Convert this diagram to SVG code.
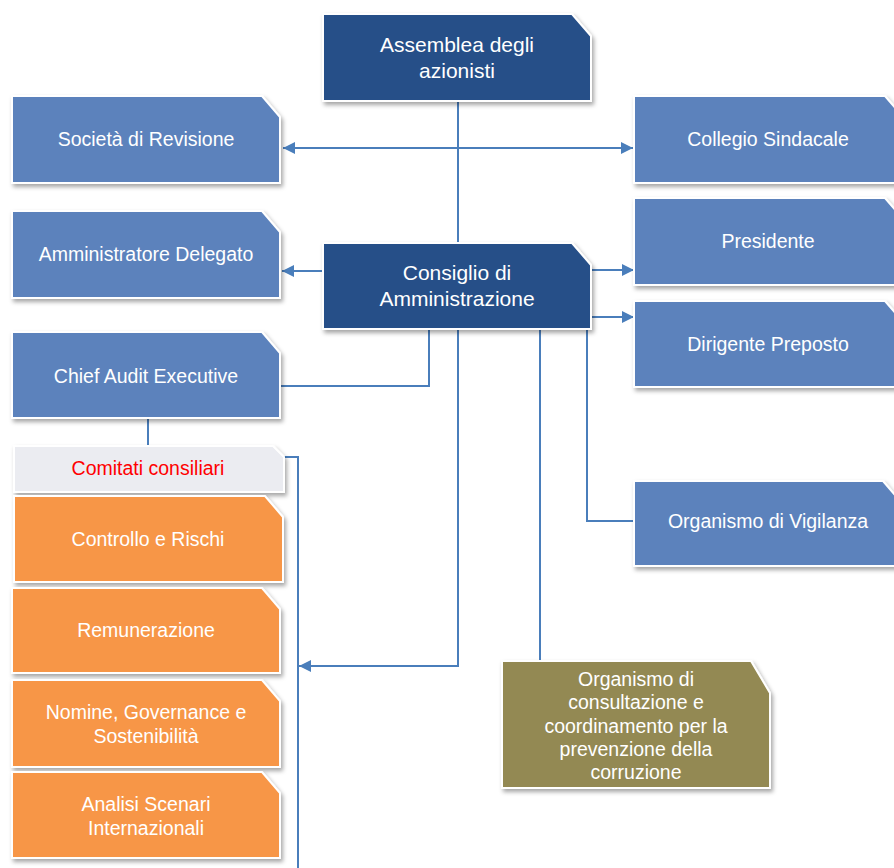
<svg xmlns="http://www.w3.org/2000/svg" width="894" height="868" viewBox="0 0 894 868">
<style>
  .box{stroke:#ffffff;stroke-width:2;filter:url(#sh)}
  .dark{fill:#264F88}
  .light{fill:#5B82BC}
  .orange{fill:#F79646}
  .olive{fill:#938953}
  .gray{fill:#EBECF1}
  text{font-family:"Liberation Sans",Arial,sans-serif;fill:#ffffff;text-anchor:middle;dominant-baseline:central}
  .t21{font-size:21px}
  .t19{font-size:19.5px}
  .red{fill:#FF0000}
  .conn{fill:none;stroke:#4A7EBB;stroke-width:2}
</style>
<defs>
  <filter id="sh" x="-10%" y="-10%" width="125%" height="130%">
    <feDropShadow dx="2" dy="3" stdDeviation="2" flood-color="#000" flood-opacity="0.35"/>
  </filter>
  <marker id="arr" markerUnits="userSpaceOnUse" markerWidth="12" markerHeight="12" viewBox="0 0 10 10" refX="10" refY="5" orient="auto-start-reverse">
    <path d="M0,0 L10,5 L0,10 z" fill="#4A7EBB"/>
  </marker>
</defs>
<rect width="894" height="868" fill="#ffffff"/>
<g id="connectors">
  <path class="conn" d="M458,101 V243"/>
  <path class="conn" d="M283,148 H633" marker-start="url(#arr)" marker-end="url(#arr)"/>
  <path class="conn" d="M323,271 H282" marker-end="url(#arr)"/>
  <path class="conn" d="M591,270 H634" marker-end="url(#arr)"/>
  <path class="conn" d="M591,317 H634" marker-end="url(#arr)"/>
  <path class="conn" d="M429,329 V386 H280"/>
  <path class="conn" d="M148,418 V446"/>
  <path class="conn" d="M458,329 V666 H299" marker-end="url(#arr)"/>
  <path class="conn" d="M284,457 H298 V868"/>
  <path class="conn" d="M540,329 V661"/>
  <path class="conn" d="M587,329 V521 H634"/>
</g>
<g id="assemblea">
  <path class="box dark" d="M323,14 H572 L591,36 V101 H323 Z"/>
  <text class="t21" x="457" y="44">Assemblea degli</text>
  <text class="t21" x="457" y="70">azionisti</text>
</g>
<g id="societa">
  <path class="box light" d="M12,96 H262 L280,117 V183 H12 Z"/>
  <text class="t19" x="146" y="139">Società di Revisione</text>
</g>
<g id="collegio">
  <path class="box light" d="M634,96 H885 L903,117 V183 H634 Z"/>
  <text class="t19" x="768" y="139">Collegio Sindacale</text>
</g>
<g id="amministratore">
  <path class="box light" d="M12,211 H262 L280,232 V298 H12 Z"/>
  <text class="t19" x="146" y="254">Amministratore Delegato</text>
</g>
<g id="presidente">
  <path class="box light" d="M634,198 H885 L903,219 V285 H634 Z"/>
  <text class="t19" x="768" y="241">Presidente</text>
</g>
<g id="consiglio">
  <path class="box dark" d="M323,243 H572 L591,265 V329 H323 Z"/>
  <text class="t21" x="457" y="272">Consiglio di</text>
  <text class="t21" x="457" y="298">Amministrazione</text>
</g>
<g id="dirigente">
  <path class="box light" d="M634,301 H885 L903,322 V387 H634 Z"/>
  <text class="t19" x="768" y="344">Dirigente Preposto</text>
</g>
<g id="chief">
  <path class="box light" d="M12,332 H262 L280,353 V418 H12 Z"/>
  <text class="t19" x="146" y="376">Chief Audit Executive</text>
</g>
<g id="comitati">
  <path class="box gray" d="M14,446 H273 L284,457 V492 H14 Z"/>
  <text class="t19 red" x="148" y="468">Comitati consiliari</text>
</g>
<g id="controllo">
  <path class="box orange" d="M14,496 H265 L283,517 V582 H14 Z"/>
  <text class="t19" x="148" y="539">Controllo e Rischi</text>
</g>
<g id="remunerazione">
  <path class="box orange" d="M12,588 H262 L280,609 V673 H12 Z"/>
  <text class="t19" x="146" y="630">Remunerazione</text>
</g>
<g id="nomine">
  <path class="box orange" d="M12,680 H262 L280,701 V767 H12 Z"/>
  <text class="t19" x="146" y="712">Nomine, Governance e</text>
  <text class="t19" x="146" y="736">Sostenibilità</text>
</g>
<g id="analisi">
  <path class="box orange" d="M12,772 H262 L280,793 V858 H12 Z"/>
  <text class="t19" x="146" y="804">Analisi Scenari</text>
  <text class="t19" x="146" y="828">Internazionali</text>
</g>
<g id="vigilanza">
  <path class="box light" d="M634,481 H883 L901,502 V566 H634 Z"/>
  <text class="t19" x="768" y="521">Organismo di Vigilanza</text>
</g>
<g id="consultazione">
  <path class="box olive" d="M502,661 H751 L770,693 V788 H502 Z"/>
  <text class="t19" x="636" y="679">Organismo di</text>
  <text class="t19" x="636" y="702">consultazione e</text>
  <text class="t19" x="636" y="726">coordinamento per la</text>
  <text class="t19" x="636" y="749">prevenzione della</text>
  <text class="t19" x="636" y="772">corruzione</text>
</g>
</svg>
